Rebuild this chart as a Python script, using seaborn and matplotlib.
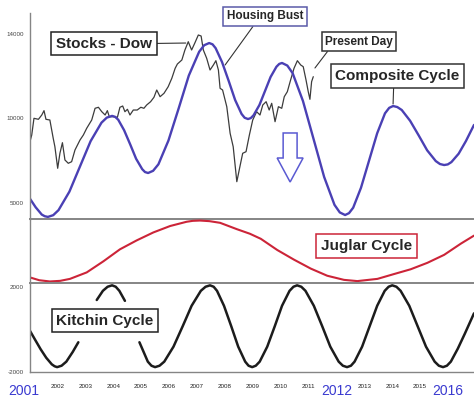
import pandas as pd
import matplotlib
matplotlib.use("Agg")
import matplotlib.pyplot as plt
from matplotlib.patches import FancyArrow
from matplotlib.transforms import ScaledTranslation
import seaborn as sns

# ---- values ----
dow_years = [2001.0, 2001.08, 2001.16, 2001.32, 2001.44, 2001.52, 2001.59, 2001.73, 2001.85, 2001.91,
             2002.01, 2002.09, 2002.18, 2002.27, 2002.39, 2002.51, 2002.63, 2002.81, 2002.93, 2003.05,
             2003.23, 2003.35, 2003.47, 2003.59, 2003.71, 2003.79, 2003.86, 2004.00, 2004.15, 2004.24,
             2004.34, 2004.42, 2004.51, 2004.60, 2004.72, 2004.86, 2004.99, 2005.10, 2005.20, 2005.34,
             2005.46, 2005.56, 2005.68, 2005.82, 2005.97, 2006.10, 2006.22, 2006.30, 2006.46, 2006.57,
             2006.69, 2006.81, 2006.93, 2007.05, 2007.15, 2007.23, 2007.35, 2007.47, 2007.59, 2007.68,
             2007.77, 2007.83, 2007.92, 2008.07, 2008.19, 2008.30, 2008.43, 2008.54, 2008.64, 2008.76,
             2008.88, 2009.00, 2009.14, 2009.26, 2009.36, 2009.48, 2009.59, 2009.68, 2009.80, 2009.92,
             2010.04, 2010.13, 2010.24, 2010.34, 2010.48, 2010.60, 2010.72, 2010.81, 2010.91, 2010.99,
             2011.05, 2011.11, 2011.17]
dow_values = [8795, 9190, 9985, 9937, 10143, 10350, 9937, 9905, 9033, 8633,
              7605, 8319, 8824, 8000, 7843, 7919, 8476, 8952, 9190, 9510,
              9905, 10462, 10510, 10300, 10143, 10350, 10062, 10062, 10030, 10510,
              10571, 10300, 10414, 10143, 10380, 10380, 10510, 10462, 10620, 10776,
              10986, 11333, 11014, 11176, 11490, 11890, 12367, 12571, 12762, 13238,
              13633, 13238, 13586, 13952, 13905, 13238, 12843, 12286, 12524, 12729,
              12286, 11414, 11333, 10538, 9271, 8633, 6967, 7681, 8319, 8395,
              9190, 9905, 10300, 10143, 10619, 10776, 10381, 10700, 9824, 10538,
              10462, 11014, 11252, 11729, 12367, 12729, 12524, 12443, 11810, 11252,
              10890, 11729, 11967]

composite_years = [2001.0, 2001.22, 2001.44, 2001.55, 2001.66, 2001.85,
                   2002.04, 2002.43, 2002.81, 2003.19, 2003.58, 2003.77, 2003.96, 2004.07,
                   2004.18, 2004.39, 2004.61, 2004.82, 2005.04, 2005.14, 2005.25, 2005.43,
                   2005.62, 2005.98, 2006.35, 2006.71, 2007.08, 2007.26, 2007.44, 2007.56,
                   2007.67, 2007.90, 2008.14, 2008.37, 2008.60, 2008.71, 2008.83, 2008.93,
                   2009.03, 2009.24, 2009.44, 2009.64, 2009.85, 2009.95, 2010.05, 2010.24,
                   2010.43, 2010.80, 2011.18, 2011.56, 2011.93, 2012.12, 2012.31, 2012.45,
                   2012.60, 2012.88, 2013.17, 2013.46, 2013.74, 2013.89, 2014.03, 2014.18,
                   2014.34, 2014.64, 2014.95, 2015.25, 2015.56, 2015.71, 2015.86, 2015.99,
                   2016.12, 2016.38, 2016.64, 2016.93]
composite_values = [6190, 5750, 5400, 5320, 5290, 5372,
                    5612, 6492, 7695, 8897, 9778, 10018, 10100, 10054,
                    9918, 9420, 8740, 8060, 7562, 7426, 7380, 7485,
                    7795, 8928, 10475, 12023, 13155, 13465, 13570, 13508,
                    13327, 12665, 11760, 10855, 10193, 10012, 9950, 9995,
                    10129, 10618, 11285, 11953, 12441, 12575, 12620, 12497,
                    12135, 10810, 9000, 7190, 5865, 5503, 5380, 5468,
                    5728, 6678, 7975, 9273, 10222, 10482, 10570, 10522,
                    10382, 9868, 9165, 8463, 7948, 7808, 7760, 7790,
                    7900, 8300, 8900, 9670]

# Juglar cycle, read as 0 (lower rule) .. 1 (upper rule)
juglar_years = [2001.0, 2001.35, 2001.73, 2002.1, 2002.45, 2003.05, 2003.65, 2004.24, 2004.84,
                2005.44, 2006.04, 2006.63, 2006.85, 2007.11, 2007.45, 2007.83, 2008.43, 2008.9,
                2009.29, 2009.88, 2010.48, 2011.08, 2011.67, 2012.27, 2012.75, 2013.47, 2014.06,
                2014.66, 2015.26, 2015.86, 2016.46, 2016.93]
juglar_values = [0.073, 0.025, 0.005, 0.015, 0.047, 0.152, 0.333, 0.527, 0.672,
                 0.802, 0.906, 0.975, 0.99, 0.995, 0.985, 0.958, 0.855, 0.78,
                 0.698, 0.516, 0.359, 0.214, 0.098, 0.031, 0.011, 0.047, 0.125,
                 0.203, 0.308, 0.4375, 0.62, 0.75]

# Kitchin cycle; the original drawing has two breaks in the line
kitchin_years_a = [2001.0, 2001.2, 2001.4, 2001.6, 2001.8, 2001.9, 2001.99, 2002.15, 2002.32,
                   2002.55, 2002.75]
kitchin_values_a = [-24, -480, -930, -1330, -1640, -1730, -1770, -1704, -1512, -1054, -600]
kitchin_years_b = [2003.41, 2003.63, 2003.80, 2003.96, 2004.09, 2004.22, 2004.42]
kitchin_values_b = [1390, 1822, 2014, 2080, 2014, 1822, 1350]
kitchin_years_c = [2004.94, 2005.24, 2005.37, 2005.50, 2005.66, 2005.83, 2006.16, 2006.49, 2006.81,
                   2007.14, 2007.31, 2007.47, 2007.60, 2007.72, 2007.97, 2008.23, 2008.48, 2008.73,
                   2008.85, 2008.98, 2009.11, 2009.25, 2009.52, 2009.79, 2010.05, 2010.32, 2010.46,
                   2010.59, 2010.74, 2010.89, 2011.19, 2011.49, 2011.78, 2012.08, 2012.23, 2012.38,
                   2012.52, 2012.65, 2012.92, 2013.19, 2013.46, 2013.73, 2013.87, 2014.0, 2014.15,
                   2014.30, 2014.61, 2014.91, 2015.21, 2015.52, 2015.67, 2015.82, 2015.96, 2016.1,
                   2016.35, 2016.6, 2016.93]
kitchin_values_c = [-600, -1512, -1704, -1770, -1704, -1512, -808, 155, 1118,
                    1822, 2014, 2080, 2014, 1822, 1118, 155, -808, -1512,
                    -1704, -1770, -1704, -1512, -808, 155, 1118, 1822, 2014,
                    2080, 2014, 1822, 1118, 155, -808, -1512, -1704, -1770,
                    -1704, -1512, -808, 155, 1118, 1822, 2014, 2080, 2014,
                    1822, 1118, 155, -808, -1512, -1704, -1770, -1704, -1512,
                    -900, -200, 762]

year_ticks = list(range(2001, 2017))
big_years = [2001, 2012, 2016]
top_ticks = [14000, 10000, 5950]
top_tick_labels = ['14000', '10000', '5000']
low_ticks = [2000, -2000]

dow_df = pd.DataFrame({'year': dow_years, 'value': dow_values})
comp_df = pd.DataFrame({'year': composite_years, 'value': composite_values})
jug_df = pd.DataFrame({'year': juglar_years, 'value': juglar_values})
kit_parts = [
    pd.DataFrame({'year': kitchin_years_a, 'value': kitchin_values_a}),
    pd.DataFrame({'year': kitchin_years_b, 'value': kitchin_values_b}),
    pd.DataFrame({'year': kitchin_years_c, 'value': kitchin_values_c}),
]

sns.set_style("white")
plt.rcParams['font.family'] = ['Liberation Sans', 'DejaVu Sans']

BLUE = '#4a40b4'
RED = '#cc2438'
GRID = '#858585'

fig = plt.figure(figsize=(4.74, 4.0), dpi=100)
W, H = 474, 400
left = 29.5 / W
width = 1 - left
ax_top = fig.add_axes([left, (H - 219) / H, width, 206 / H])
ax_mid = fig.add_axes([left, (H - 283) / H, width, 64 / H])
ax_low = fig.add_axes([left, (H - 372) / H, width, 89 / H])

# 1. Stocks and composite cycle
sns.lineplot(data=dow_df, x='year', y='value', ax=ax_top, color='#3c3c3c', linewidth=0.9)
sns.lineplot(data=comp_df, x='year', y='value', ax=ax_top, color=BLUE, linewidth=1.7)
ax_top.set_ylim(5190, 15000)
ax_top.set_yticks(top_ticks, top_tick_labels)

# 2. Juglar cycle
sns.lineplot(data=jug_df, x='year', y='value', ax=ax_mid, color=RED, linewidth=1.5)
ax_mid.set_ylim(-0.02, 1.02)
ax_mid.set_yticks([])

# 3. Kitchin cycle
for seg in kit_parts:
    sns.lineplot(data=seg, x='year', y='value', ax=ax_low, color='#1c1c1c', linewidth=1.8)
ax_low.set_ylim(-2000, 2190)
ax_low.set_yticks(low_ticks, [str(v) for v in low_ticks])

for ax in (ax_top, ax_mid, ax_low):
    ax.set_xlim(2001.0, 2016.93)
    ax.set_xlabel('')
    ax.set_ylabel('')
    for side in ('top', 'right'):
        ax.spines[side].set_visible(False)
    ax.spines['left'].set_color(GRID)
    ax.spines['left'].set_linewidth(1.0)
    ax.spines['bottom'].set_color(GRID)
    ax.spines['bottom'].set_linewidth(1.4)
    ax.tick_params(axis='y', length=2.5, width=0.8, color=GRID, labelsize=4.5,
                   labelcolor='#444444', pad=1.5)
    ax.patch.set_alpha(0)

ax_top.set_xticks([])
ax_mid.set_xticks([])
ax_low.spines['bottom'].set_linewidth(1.0)
ax_low.set_xticks(year_ticks, [str(y) for y in year_ticks])
ax_low.tick_params(axis='x', length=2.5, width=0.8, color=GRID, labelsize=4.5,
                   labelcolor='#222222', pad=6)
for lab, yr in zip(ax_low.get_xticklabels(), year_ticks):
    if yr in big_years:
        lab.set_fontsize(10)
        lab.set_color('#3a3ad0')
    if yr == 2001:
        lab.set_transform(lab.get_transform() + ScaledTranslation(-4 / 72, 0, fig.dpi_scale_trans))

# hollow arrow
ax_top.add_patch(FancyArrow(2010.34, 9286, 0, -2334, width=0.5, head_width=0.93,
                            head_length=1143, length_includes_head=True, fill=False,
                            edgecolor='#5a5ad2', linewidth=1.1))

# labelled boxes
def box(ec, lw=1.1):
    return dict(boxstyle='square,pad=0.3', fc='white', ec=ec, lw=lw)

line = dict(arrowstyle='-', color='#333333', lw=0.8, shrinkA=0, shrinkB=0)

ax_top.annotate('Stocks - Dow', xy=(2006.6, 13570), xytext=(104, H - 43.5),
                textcoords='figure pixels', ha='center', va='center', fontsize=11,
                fontweight='bold', bbox=box('#222222'),
                arrowprops=dict(line, relpos=(1, 0.5)))
ax_top.annotate('Housing Bust', xy=(2008.01, 12524), xytext=(265, H - 16.5),
                textcoords='figure pixels', ha='center', va='center', fontsize=8.5,
                fontweight='bold', bbox=box('#5a5aa8'),
                arrowprops=dict(line, relpos=(0.38, 0)))
ax_top.annotate('Present Day', xy=(2011.23, 12381), xytext=(359, H - 41.5),
                textcoords='figure pixels', ha='center', va='center', fontsize=8.5,
                fontweight='bold', bbox=box('#333333'),
                arrowprops=dict(line, relpos=(0.08, 0)))
ax_top.annotate('Composite Cycle', xy=(2014.03, 10667), xytext=(397.5, H - 76),
                textcoords='figure pixels', ha='center', va='center', fontsize=11,
                fontweight='bold', bbox=box('#333333'),
                arrowprops=dict(line, relpos=(0.47, 0)))
fig.text(366.5 / W, (H - 246) / H, 'Juglar Cycle', ha='center', va='center', fontsize=11,
         fontweight='bold', bbox=box(RED))
fig.text(105 / W, (H - 320.5) / H, 'Kitchin Cycle', ha='center', va='center', fontsize=11,
         fontweight='bold', bbox=box('#222222'))

fig.savefig('out.png', dpi=100)
